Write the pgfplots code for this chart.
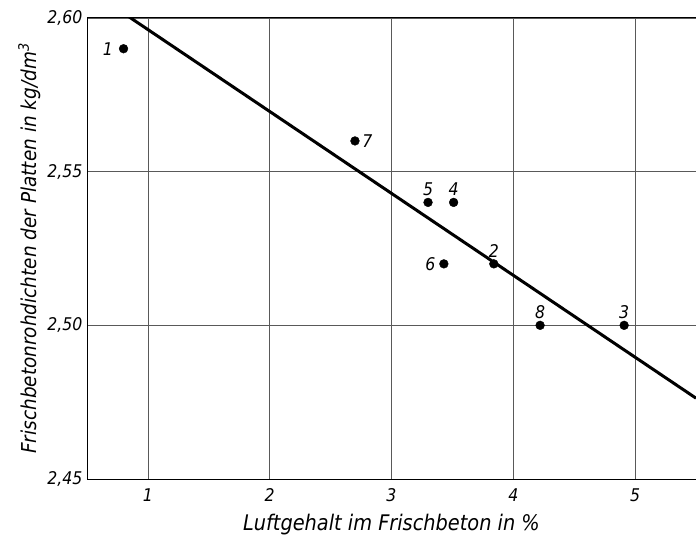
\documentclass[border=0pt]{standalone}
\usepackage{pgfplots}
\pgfplotsset{compat=1.18}
\usepackage{fontspec}
\setmainfont{DejaVu Sans Condensed}[ItalicFont=DejaVu Sans Condensed Oblique]
\usetikzlibrary{calc}
\begin{document}
\begin{tikzpicture}
\begin{axis}[name=ax,
  scale only axis, width=609pt, height=461pt,
  xmin=0.5, xmax=5.5, ymin=2.45, ymax=2.60,
  xtick={1,2,3,4,5}, ytick={2.45,2.50,2.55,2.60},
  grid=major, major grid style={line width=0.7pt, draw=black!65},
  axis line style={line width=1pt, black},
  major tick length=0pt,
  /pgf/number format/assume math mode=true,
  yticklabel style={/pgf/number format/use comma, /pgf/number format/fixed, /pgf/number format/fixed zerofill, /pgf/number format/precision=2, xshift=-1pt},
  xticklabel style={/pgf/number format/fixed, /pgf/number format/precision=0, yshift=-6pt},
  ticklabel style={font=\fontsize{17.5}{19}\selectfont\itshape},
  xlabel={Luftgehalt im Frischbeton in \%},
  ylabel={Frischbetonrohdichten der Platten in kg/dm\textsuperscript{3}},
  label style={font=\fontsize{21.5}{24}\selectfont\itshape},
  ylabel style={font=\fontsize{20.5}{24}\selectfont\itshape, yshift=0pt},
  xlabel style={yshift=-6pt},
  clip=true,
]
\addplot[black, line width=3pt] coordinates {(0.75,2.6029) (5.5,2.4763)};
\addplot[only marks, mark=*, mark size=4.4pt, black,
  point meta=explicit symbolic,
  nodes near coords, nodes near coords style={font=\fontsize{17.5}{19}\selectfont\itshape, anchor=south, yshift=3pt}]
  table[meta=l] {
x y l
3.30 2.540 5
3.51 2.540 4
3.84 2.520 2
4.22 2.500 8
4.91 2.500 3
};
\addplot[only marks, mark=*, mark size=4.4pt, black,
  point meta=explicit symbolic,
  nodes near coords, nodes near coords style={font=\fontsize{17.5}{19}\selectfont\itshape, anchor=east, xshift=-7pt}]
  table[meta=l] {
x y l
0.80 2.590 1
};
\addplot[only marks, mark=*, mark size=4.4pt, black,
  point meta=explicit symbolic,
  nodes near coords, nodes near coords style={font=\fontsize{17.5}{19}\selectfont\itshape, anchor=east, xshift=-5pt}]
  table[meta=l] {
x y l
3.43 2.520 6
};
\addplot[only marks, mark=*, mark size=4.4pt, black,
  point meta=explicit symbolic,
  nodes near coords, nodes near coords style={font=\fontsize{17.5}{19}\selectfont\itshape, anchor=west, xshift=4pt}]
  table[meta=l] {
x y l
2.70 2.560 7
};
\end{axis}
\pgfresetboundingbox
\path ($(ax.south west)+(-87pt,-61pt)$) rectangle ($(ax.north east)+(0pt,18pt)$);
\end{tikzpicture}
\end{document}
